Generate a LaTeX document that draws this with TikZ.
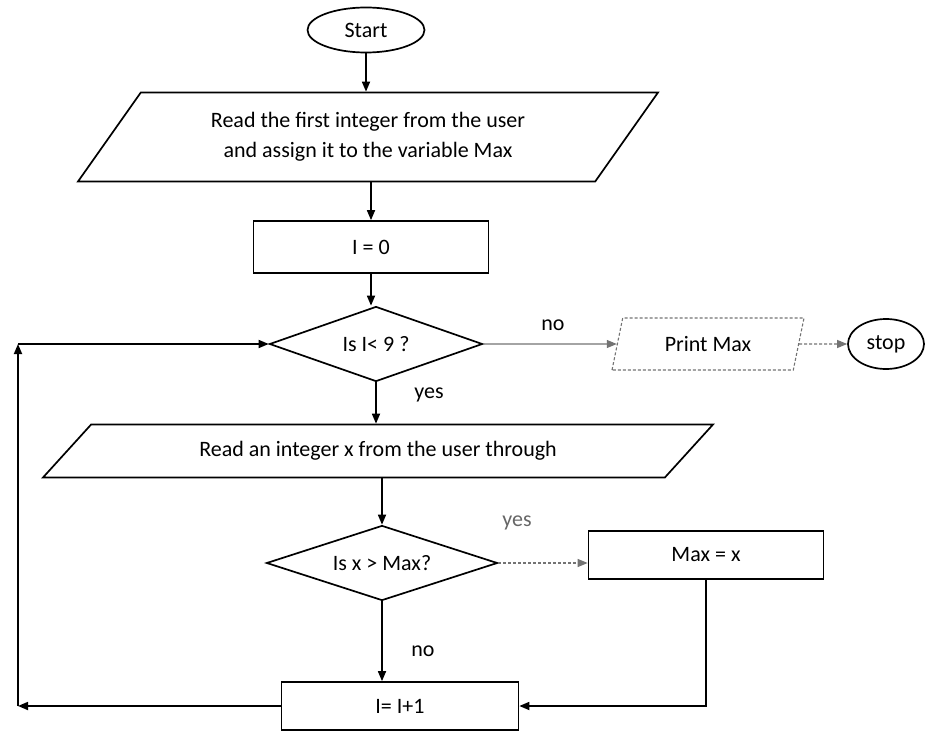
\documentclass[tikz,border=0pt]{standalone}
\usepackage{fontspec}
\setmainfont{Carlito}
\usetikzlibrary{shapes.geometric,arrows.meta}

\begin{document}
\begin{tikzpicture}[x=1pt,y=-1pt,
  font=\fontsize{22}{30}\selectfont,
  line width=1.7pt,
  arr/.style={-{Triangle[length=10pt,width=8pt]}},
  faint/.style={draw=black!55,densely dashed,line width=1.1pt},
  term/.style={ellipse,draw,inner sep=0pt},
  io/.style={trapezium,draw,trapezium stretches body=true,inner sep=0pt},
  proc/.style={rectangle,draw,inner sep=0pt},
  cond/.style={diamond,draw,aspect=2.8,inner sep=0pt}]

\useasboundingbox (0,0) rectangle (927,733);

% Start and first input
\node[term,minimum width=117,minimum height=45] (start) at (366,30) {Start};
\node[io,trapezium left angle=38,trapezium right angle=142,
      minimum width=580,minimum height=89,align=center] (read1) at (368,137)
      {Read the first integer from the user\\and assign it to the variable Max};

% Counter
\node[proc,minimum width=235,minimum height=52] (init) at (371,247) {I = 0};

% Loop test
\node[cond,minimum width=213,minimum height=75] (test) at (376,344) {Is I< 9 ?};
\node[io,faint,trapezium left angle=55,trapezium right angle=125,
      minimum width=192,minimum height=52] (print) at (708,344) {Print Max};
\node[term,minimum width=76,minimum height=50] (stop) at (886,344) {stop};

% Loop body
\node[io,trapezium left angle=21.6,trapezium right angle=158.4,
      minimum width=670,minimum height=53] (read2) at (378,451)
      {Read an integer x from the user through};
\node[cond,minimum width=231,minimum height=75] (cmp) at (382,563) {Is x > Max?};
\node[proc,minimum width=235,minimum height=48] (upd) at (706,555) {Max = x};
\node[proc,minimum width=237,minimum height=48] (inc) at (400,706) {I= I+1};

% Labels
\node (no1) at (553,325) {no};
\node (yes1) at (429,395) {yes};
\node[text=black!60] (yes2) at (517,523) {yes};
\node (no2) at (423,651) {no};

% Loop corners
\coordinate (lb) at (18,706);
\coordinate (lt) at (18,344);

% Connectors
\draw[arr] (start.south) -- (start.south |- read1.north);
\draw[arr] (init.north |- read1.south) -- (init.north);
\draw[arr] (init.south) -- (init.south |- test.north);
\draw[arr,faint,solid] (test.east) -- (print.west);
\draw[arr,faint] (print.east) -- (stop.west);
\draw[arr] (test.south) -- (test.south |- read2.north);
\draw[arr] (cmp.north |- read2.south) -- (cmp.north);
\draw[arr,faint] (cmp.east) -- (cmp.east -| upd.west);
\draw[arr] (cmp.south) -- (cmp.south |- inc.north);
\draw[arr] (upd.south) -- (upd.south |- inc.east) -- (inc.east);
\draw[arr] (inc.west) -- (lb);
\draw[arr] (lb) -- (lt);
\draw[arr] (lt) -- (test.west);

\end{tikzpicture}
\end{document}
